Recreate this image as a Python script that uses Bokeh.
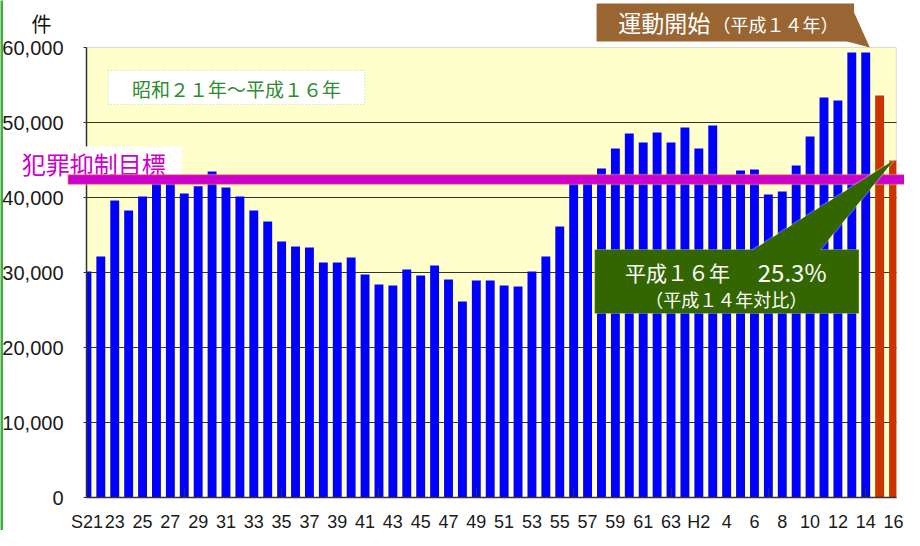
from bokeh.plotting import figure
from bokeh.models import (ColumnDataSource, Range1d, FixedTicker, NumeralTickFormatter,
                          BoxAnnotation, PolyAnnotation, Label)
from bokeh.embed import file_html
from bokeh.resources import INLINE

# ---------------- data ----------------
YEARS = ["S21", "S22", "S23", "S24", "S25", "S26", "S27", "S28", "S29", "S30",
         "S31", "S32", "S33", "S34", "S35", "S36", "S37", "S38", "S39", "S40",
         "S41", "S42", "S43", "S44", "S45", "S46", "S47", "S48", "S49", "S50",
         "S51", "S52", "S53", "S54", "S55", "S56", "S57", "S58", "S59", "S60",
         "S61", "S62", "S63", "H1", "H2", "H3", "H4", "H5", "H6", "H7",
         "H8", "H9", "H10", "H11", "H12", "H13", "H14", "H15", "H16"]
COUNTS = [30130, 32130, 39600, 38270, 40130, 41900, 42200, 40530, 41500, 43470,
          41330, 40130, 38270, 36800, 34130, 33470, 33330, 31330, 31330, 32000,
          29730, 28400, 28270, 30400, 29600, 30930, 29070, 26130, 28930, 28930,
          28270, 28130, 30130, 32130, 36130, 42000, 42100, 43870, 46530, 48530,
          47330, 48670, 47330, 49330, 46530, 49600, 42000, 43600, 43730, 40400,
          40800, 44270, 48130, 53330, 52930, 59330, 59330, 53600, 44930]
CAMPAIGN_YEARS = ["H15", "H16"]
TICK_LABELS = ["S21", "23", "25", "27", "29", "31", "33", "35", "37", "39", "41",
               "43", "45", "47", "49", "51", "53", "55", "57", "59", "61", "63",
               "H2", "4", "6", "8", "10", "12", "14", "16"]
TARGET = 42400
Y_TICKS = [0, 10000, 20000, 30000, 40000, 50000, 60000]
GRID_TICKS = [10000, 20000, 30000, 40000, 50000]

# ---------------- layout ----------------
W_FIG, H_FIG = 904, 530
L_PX, T_PX, B_PX = 86, 47, 497          # plot area edges (page pixels)
X0 = -0.03                              # data x at plot-area left edge
X1 = 58.2                               # data x at plot-area right edge
PX_REF = 14.15                          # reference px per category (for placing notes)
PX = 13.907                             # rendered px per category (fits the canvas)
Y_MAX = 60000
U_PER_PX = Y_MAX / (B_PX - T_PX)


def dx(px):
    """reference-page x pixel -> data x"""
    return X0 + (px - L_PX) / PX_REF


def dy(py):
    """page y pixel -> data y"""
    return (B_PX - py) * U_PER_PX


AXIS_FONT = "'Liberation Sans', Arial, sans-serif"
CJK = "'Noto Sans CJK JP', sans-serif"

BAR_W = 0.64
xs = list(range(len(YEARS)))
colors = ["#CC3300" if y in CAMPAIGN_YEARS else "#0000FF" for y in YEARS]
src = ColumnDataSource(dict(
    left=[max(i - BAR_W / 2, X0) for i in xs],
    right=[min(i + BAR_W / 2, X1) for i in xs],
    top=COUNTS, bottom=[0] * len(xs), color=colors))

p = figure(width=W_FIG, height=H_FIG,
           x_range=Range1d(X0 - L_PX / PX, X0 + (W_FIG - L_PX) / PX),
           y_range=Range1d(dy(H_FIG), dy(0)),
           output_backend="svg", toolbar_location=None, tools="",
           min_border_left=0, min_border_right=0, min_border_top=0, min_border_bottom=0,
           background_fill_color="white", border_fill_color="white",
           outline_line_color=None)

# plot area background
p.add_layout(BoxAnnotation(left=X0, right=X1, bottom=0, top=Y_MAX, level="image",
                           fill_color="#FFFFCC", fill_alpha=1, line_color="#8c8c8c",
                           line_width=1))

p.quad(left="left", right="right", bottom="bottom", top="top", fill_color="color",
       line_color=None, source=src)

# axes
p.yaxis.fixed_location = X0
p.yaxis.bounds = (0, Y_MAX)
p.yaxis.ticker = FixedTicker(ticks=Y_TICKS)
p.yaxis.formatter = NumeralTickFormatter(format="0,0")
p.yaxis.major_label_text_font = AXIS_FONT
p.yaxis.major_label_text_font_size = "20px"
p.yaxis.major_label_text_color = "#1a1a1a"
p.yaxis.major_label_standoff = 20
p.yaxis.major_tick_out = 3
p.yaxis.major_tick_in = 0
p.yaxis.minor_tick_line_color = None
p.yaxis.axis_line_color = "#333333"
p.yaxis.axis_line_width = 1.5
p.yaxis.major_tick_line_color = "#333333"

p.xaxis.fixed_location = 0
p.xaxis.bounds = (X0, X1)
p.xaxis.ticker = FixedTicker(ticks=list(range(0, len(YEARS), 2)),
                             minor_ticks=list(range(0, len(YEARS), 7)))
p.xaxis.major_label_overrides = {i * 2: lab for i, lab in enumerate(TICK_LABELS)}
p.xaxis.major_label_text_font = AXIS_FONT
p.xaxis.major_label_text_font_size = "18px"
p.xaxis.major_label_text_color = "#1a1a1a"
p.xaxis.major_label_standoff = 14
p.xaxis.major_tick_line_color = None
p.xaxis.major_tick_out = 0
p.xaxis.major_tick_in = 0
p.xaxis.minor_tick_in = 9
p.xaxis.minor_tick_out = 0
p.xaxis.minor_tick_line_color = "#333333"
p.xaxis.axis_line_color = "#333333"
p.xaxis.axis_line_width = 1.5

p.xgrid.grid_line_color = None
p.ygrid.ticker = FixedTicker(ticks=GRID_TICKS)
p.ygrid.cross_bounds = (X0, X1)
p.ygrid.grid_line_color = "#333333"
p.ygrid.grid_line_width = 1

# page frame line at the left
p.add_layout(BoxAnnotation(left=X0 - 1 / PX - L_PX / PX, right=X0 + 2.5 / PX - L_PX / PX,
                           top=dy(-20), bottom=dy(H_FIG + 20),
                           fill_color="#44AA44", fill_alpha=1, line_color=None))

# unit label
p.add_layout(Label(x=dx(30), y=dy(22.5), text="件", text_font=CJK, text_font_size="20px",
                   text_color="#111111", text_baseline="middle", text_align="left"))

# period box
p.add_layout(BoxAnnotation(left=dx(108), right=dx(369), top=dy(70), bottom=dy(104),
                           fill_color="white", fill_alpha=1, line_color="#339933",
                           line_width=1, line_dash="1 2"))
p.add_layout(Label(x=dx(238.5), y=dy(87.5), text="昭和２１年～平成１６年", text_font=CJK,
                   text_font_size="19px", text_color="#2E8B2E", text_align="center",
                   text_baseline="middle"))

# target label + band
p.add_layout(BoxAnnotation(left=dx(12), right=dx(183), top=dy(146), bottom=dy(174),
                           fill_color="white", fill_alpha=1, line_color=None))
p.add_layout(Label(x=dx(20), y=dy(162.5), text="犯罪抑制目標", text_font=CJK,
                   text_font_size="24px", text_color="#CC00CC", text_align="left",
                   text_baseline="middle"))
band = 667
p.add_layout(BoxAnnotation(left=dx(67), right=dx(940), top=TARGET + band, bottom=TARGET - band,
                           fill_color="#CC00CC", fill_alpha=1, line_color="#FFFF00",
                           line_width=1.5))

# campaign start callout (brown)
BROWN = "#996633"
p.add_layout(BoxAnnotation(left=dx(605), right=dx(867), top=dy(3), bottom=dy(41),
                           fill_color=BROWN, fill_alpha=1, line_color=None))
p.add_layout(PolyAnnotation(xs=[dx(860), dx(867), dx(883)], ys=[dy(41), dy(12), dy(47)],
                            fill_color=BROWN, fill_alpha=1, line_color=None))
p.add_layout(Label(x=dx(627), y=dy(21.5), text="運動開始", text_font=CJK,
                   text_font_size="23px", text_color="white", text_align="left",
                   text_baseline="middle"))
p.add_layout(Label(x=dx(723), y=dy(23), text="（平成１４年）", text_font=CJK,
                   text_font_size="18px", text_color="white", text_align="left",
                   text_baseline="middle"))

# reduction callout (green)
GREEN = "#336600"
last = len(YEARS) - 1
tri_x = [dx(760), dx(830), last]
tri_y = [dy(252), dy(252), COUNTS[last]]
p.add_layout(PolyAnnotation(xs=tri_x, ys=tri_y, fill_color=GREEN, fill_alpha=1,
                            line_color="white", line_width=2.5))
p.add_layout(BoxAnnotation(left=dx(603), right=dx(872), top=dy(249), bottom=dy(313),
                           fill_color=GREEN, fill_alpha=1, line_color="#DDEEDD",
                           line_width=1.2))
p.add_layout(PolyAnnotation(xs=tri_x, ys=tri_y, fill_color=GREEN, fill_alpha=1,
                            line_color=None))
p.add_layout(Label(x=dx(634), y=dy(271), text="平成１６年", text_font=CJK,
                   text_font_size="21px", text_color="white", text_align="left",
                   text_baseline="middle"))
p.add_layout(Label(x=dx(769), y=dy(271), text="25.3%", text_font=CJK,
                   text_font_size="24px", text_color="white", text_align="left",
                   text_baseline="middle"))
p.add_layout(Label(x=dx(737), y=dy(298), text="（平成１４年対比）", text_font=CJK,
                   text_font_size="18px", text_color="white", text_align="center",
                   text_baseline="middle"))

open("out.html", "w").write(file_html(p, INLINE))
